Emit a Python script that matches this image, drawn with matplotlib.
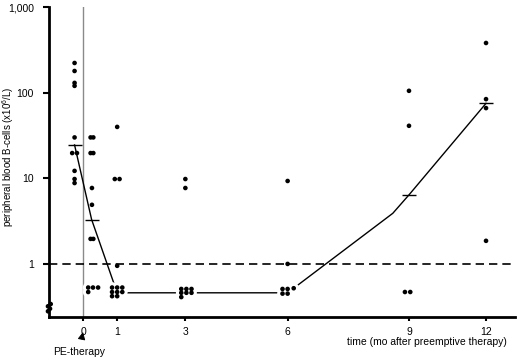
#!/usr/bin/env python3
"""Peripheral blood B-cells over time after pre-emptive therapy (log scale)."""
import numpy as np
import matplotlib
matplotlib.use("Agg")
import matplotlib.pyplot as plt

# months after therapy for each group of dots, and the B-cell counts (x10^6/L)
pre_m = [-0.25] * 10
pre_v = [222, 179, 130, 120, 30, 19.7, 19.7, 12.2, 9.8, 8.8]
pre_dx = [0, 0, 0, 0, 0, -0.07, 0.07, 0, 0, 0]

wk_m = [0.22, 0.30, 0.22, 0.30, 0.26, 0.26, 0.22, 0.30,
        0.15, 0.29, 0.44, 0.15]
wk_v = [30, 30, 19.7, 19.7, 7.7, 4.9, 1.96, 1.96,
        0.53, 0.53, 0.53, 0.47]

m1_m = [1.0, 0.93, 1.07, 1.0, 0.85, 1.0, 1.15, 0.85, 1.0, 1.15, 0.85, 1.0]
m1_v = [39.8, 9.8, 9.8, 0.95, 0.53, 0.53, 0.53, 0.47, 0.47, 0.47, 0.42, 0.42]

m3_m = [3.0, 3.0, 2.88, 3.03, 3.18, 2.88, 3.03, 3.18, 2.88]
m3_v = [9.8, 7.7, 0.51, 0.51, 0.51, 0.46, 0.46, 0.46, 0.41]

m6_m = [6.0, 6.0, 5.85, 6.0, 6.15, 5.85, 6.0]
m6_v = [9.3, 1.0, 0.51, 0.51, 0.52, 0.45, 0.45]

m9_m = [9.0, 9.0, 8.9, 9.05]
m9_v = [105, 41, 0.47, 0.47]

m12_m = [12.0, 12.0, 12.0, 12.0]
m12_v = [380, 84, 66, 1.86]

# patients below the axis start (plotted on the y axis)
base_m = [-1.03, -0.97, -1.03, -0.95]
base_v = [0.28, 0.30, 0.32, 0.34]

# trend line through the group medians, and the short median marks
trend_m = [-0.25, 0.25, 1, 3, 6, 8.6, 9, 12]
trend_v = [24.5, 3.3, 0.46, 0.46, 0.46, 3.9, 6.4, 75]
med_m = [-0.25, 0.25, 9, 12]
med_v = [24.5, 3.3, 6.4, 75]

xticks = [0, 1, 3, 6, 9, 12]
yticks = [1, 10, 100, 1000]
ytick_labels = ["1", "10", "100", "1,000"]

# the time axis is stretched unevenly in the original
axis_m = [-2, 6, 9, 12, 14]
axis_p = [-2, 6, 9.56, 11.82, 13.82]


def pos(m):
    return np.interp(m, axis_m, axis_p)


plt.rcParams["font.family"] = ["Liberation Sans", "DejaVu Sans"]
plt.rcParams["mathtext.fontset"] = "custom"
plt.rcParams["mathtext.rm"] = "Liberation Sans"

fig = plt.figure(figsize=(5.2, 3.59), dpi=100)
ax = fig.add_axes([49 / 520, 1 - 317 / 359, 466 / 520, 310 / 359])
ax.set_yscale("log")
ax.set_ylim(0.24, 1000)
ax.set_xlim(-1.0, 12.67)

all_m = pre_m + wk_m + m1_m + m3_m + m6_m + m9_m + m12_m
all_v = pre_v + wk_v + m1_v + m3_v + m6_v + m9_v + m12_v
all_x = list(pos(np.array(pre_m)) + np.array(pre_dx)) + list(pos(np.array(all_m[len(pre_m):])))

ax.plot(pos(np.array(trend_m)), trend_v, color="black", lw=1.0, zorder=2)

# white halo round the low clusters so the trend line breaks there
low = [(x, v) for x, v in zip(all_x, all_v) if v < 0.6]
ax.scatter([p[0] for p in low], [p[1] for p in low], s=60, color="white",
           edgecolors="none", zorder=3)

ax.axhline(1, color="black", lw=1.2, ls=(0, (5, 3)), zorder=4)
ax.axvline(0, color="#8a8a8a", lw=1.0, zorder=1)

ax.scatter(all_x, all_v, s=11, color="black", edgecolors="none", zorder=5)
ax.scatter(pos(np.array(base_m)), base_v, s=11, color="black",
           edgecolors="none", zorder=6, clip_on=False)
ax.plot(pos(np.array(med_m)), med_v, ls="none", marker="_", ms=10, mew=1.0,
        color="black", zorder=5)

for s in ["top", "right"]:
    ax.spines[s].set_visible(False)
for s in ["left", "bottom"]:
    ax.spines[s].set_linewidth(2.0)

ax.set_xticks(pos(np.array(xticks)))
ax.set_xticklabels([str(t) for t in xticks])
ax.set_yticks(yticks)
ax.set_yticklabels(ytick_labels)
ax.minorticks_off()
ax.tick_params(axis="y", length=4, width=1.5, pad=7, labelsize=7.5)
ax.tick_params(axis="x", length=3, width=1.5, pad=4, labelsize=7.5)

fig.text(8 / 520, 1 - 157 / 359, r"peripheral blood B-cells (x10$^6$/L)",
         rotation=90, ha="center", va="center", fontsize=7)
fig.text(507 / 520, 1 - 342 / 359, "time (mo after preemptive therapy)",
         ha="right", va="center", fontsize=7.5)
ax.annotate("PE-therapy", xy=(83 / 520, 1 - 332 / 359), xycoords="figure fraction",
            xytext=(79 / 520, 1 - 352 / 359), textcoords="figure fraction",
            ha="center", va="center", fontsize=7.5,
            arrowprops=dict(arrowstyle="-|>,head_width=0.3,head_length=0.6",
                            color="black", lw=0.7, shrinkA=4, shrinkB=0))

fig.savefig("out.png", dpi=100)
